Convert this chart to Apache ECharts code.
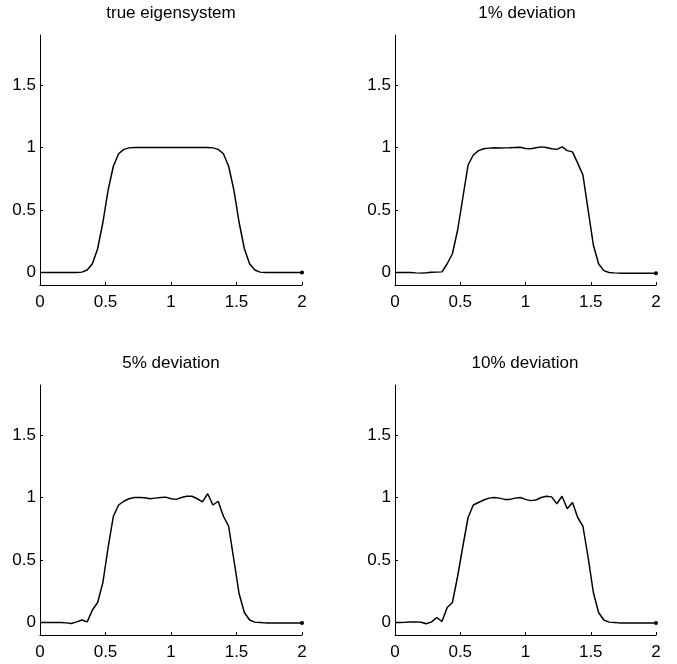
<!DOCTYPE html>
<html>
<head>
<meta charset="utf-8">
<script src="https://cdn.jsdelivr.net/npm/echarts@6/dist/echarts.min.js"></script>
<style>
  html, body { margin: 0; padding: 0; background: #fff; }
  #main { width: 677px; height: 664px; }
</style>
</head>
<body>
<div id="main"></div>
<script>
// sample positions along x
var xs = [0, 0.04, 0.08, 0.12, 0.16, 0.2, 0.24, 0.28, 0.32, 0.36, 0.4, 0.44, 0.48, 0.52, 0.56, 0.6, 0.64, 0.68, 0.72, 0.76,
  0.8, 0.84, 0.88, 0.92, 0.96, 1, 1.04, 1.08, 1.12, 1.16, 1.2, 1.24, 1.28, 1.32, 1.36, 1.4, 1.44, 1.48, 1.52, 1.56,
  1.6, 1.64, 1.68, 1.72, 1.76, 1.8, 1.84, 1.88, 1.92, 1.96, 2];

var trueVals = [0, 0, 0, 0, 0, 0, 0, 0, 0.003, 0.02, 0.07, 0.19, 0.4, 0.66, 0.85, 0.95, 0.985, 0.997, 1, 1,
  1, 1, 1, 1, 1, 1, 1, 1, 1, 1, 1, 1, 1, 0.997, 0.985, 0.95, 0.85, 0.66, 0.4, 0.19,
  0.07, 0.02, 0.003, 0, 0, 0, 0, 0, 0, 0, 0];

var dev1 = [0, 0, 0, 0, -0.003, -0.005, -0.002, 0.002, 0.003, 0.005, 0.07, 0.15, 0.34, 0.6, 0.86, 0.94, 0.975, 0.99, 0.995, 0.998,
  0.996, 0.997, 0.998, 1.0, 1.002, 0.992, 0.99, 0.998, 1.005, 1.0, 0.99, 0.985, 1.005, 0.975, 0.965, 0.875, 0.78, 0.5, 0.22, 0.07,
  0.015, 0, -0.003, -0.005, -0.005, -0.005, -0.005, -0.005, -0.005, -0.005, -0.005];

var dev5 = [0, 0, 0, 0, 0, -0.003, -0.008, 0.005, 0.02, 0.005, 0.1, 0.16, 0.32, 0.6, 0.85, 0.94, 0.97, 0.99, 1.0, 1.0,
  0.998, 0.99, 0.995, 1.0, 1.003, 0.99, 0.985, 1.0, 1.01, 1.01, 0.99, 0.965, 1.03, 0.94, 0.97, 0.85, 0.77, 0.5, 0.23, 0.08,
  0.02, 0.003, 0, -0.003, -0.003, -0.003, -0.003, -0.003, -0.003, -0.003, -0.003];

var dev10 = [0, 0, 0.002, 0.005, 0.005, 0.002, -0.01, 0.005, 0.04, 0.008, 0.12, 0.16, 0.37, 0.61, 0.84, 0.94, 0.96, 0.98, 0.995, 1.0,
  0.995, 0.985, 0.985, 0.995, 1.0, 0.985, 0.975, 0.98, 1.0, 1.01, 1.005, 0.95, 1.01, 0.91, 0.96, 0.84, 0.77, 0.52, 0.24, 0.08,
  0.02, 0.003, 0, -0.003, -0.003, -0.003, -0.003, -0.003, -0.003, -0.003, -0.003];

var titles = ['true eigensystem', '1% deviation', '5% deviation', '10% deviation'];
var xTicks = [0, 0.5, 1, 1.5, 2];
var yTicks = [0, 0.5, 1, 1.5];

var panels = [trueVals, dev1, dev5, dev10];
var grids = [
  { left: 40, right: 375, top: 35, bottom: 379 },
  { left: 395, right: 21, top: 35, bottom: 379 },
  { left: 40, right: 375, top: 385, bottom: 29 },
  { left: 395, right: 21, top: 385, bottom: 29 }
];
var titlePos = [[171, 13], [527, 13], [171, 363], [525, 363]];

var font = 'Liberation Sans, Arial, sans-serif';
var axisLine = { show: true, onZero: false, lineStyle: { color: '#000', width: 1 } };

var myChart = echarts.init(document.getElementById('main'));
var option = {
  backgroundColor: '#fff',
  animation: false,
  // titles as plain text elements, centred over each panel
  graphic: titles.map(function (t, i) {
    return {
      type: 'text', x: titlePos[i][0], y: titlePos[i][1],
      style: {
        text: t, fill: '#000', font: '17px ' + font,
        textAlign: 'center', textVerticalAlign: 'middle'
      }
    };
  }),
  grid: grids,
  xAxis: grids.map(function (g, i) {
    return {
      type: 'value', gridIndex: i, min: 0, max: 2,
      axisLine: axisLine,
      axisTick: { show: true, inside: true, length: 3, customValues: xTicks, lineStyle: { color: '#000' } },
      axisLabel: { customValues: xTicks, color: '#000', fontSize: 17, fontFamily: font, margin: 9 },
      splitLine: { show: false }
    };
  }),
  yAxis: grids.map(function (g, i) {
    return {
      type: 'value', gridIndex: i, min: -0.1, max: 1.9,
      axisLine: axisLine,
      axisTick: { show: true, inside: true, length: 3, customValues: yTicks, lineStyle: { color: '#000' } },
      axisLabel: { customValues: yTicks, color: '#000', fontSize: 17, fontFamily: font, margin: 4 },
      splitLine: { show: false }
    };
  }),
  series: panels.map(function (vals, i) {
    return {
      type: 'line', xAxisIndex: i, yAxisIndex: i,
      data: xs.map(function (x, k) { return [x, vals[k]]; }),
      showSymbol: true,
      symbol: 'circle',
      symbolSize: function (v, p) { return p.dataIndex === xs.length - 1 ? 4 : 0; },
      itemStyle: { color: '#000' },
      lineStyle: { color: '#000', width: 1.5 },
      silent: true
    };
  })
};
myChart.setOption(option);
window.addEventListener('resize', function () { myChart.resize(); });
</script>
</body>
</html>
